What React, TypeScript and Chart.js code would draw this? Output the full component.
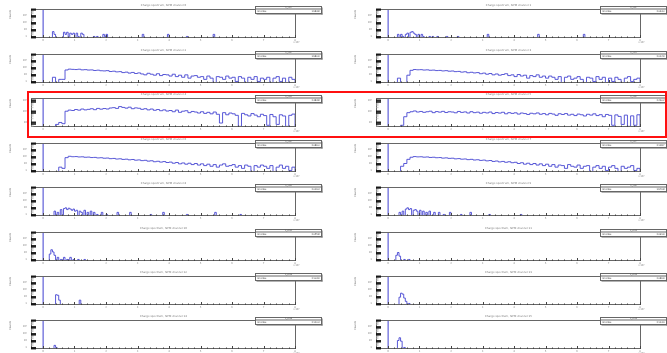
import React, { useEffect, useRef } from "react";
import { Chart, registerables } from "chart.js";

Chart.register(...registerables);

// ---------- axes ----------
const X_MIN = -0.38;
const X_MAX = 8.03;
const X_MAJOR_TICKS = [0, 1, 2, 3, 4, 5, 6, 7, 8];
const X_TICK_LABELS = ["0", "1", "2", "3", "4", "5", "6", "7", "8"];
const X_MINOR_STEPS = [0.2, 0.4, 0.6, 0.8];
const X_EXPONENT_LABEL = "×10³";

const Y_DECADES = [0.1, 1, 10, 100, 1000, 10000];
const Y_DECADE_LABELS = ["", "1", "10", "10²", "10³", "10⁴"];
const Y_MINOR_MULTIPLIERS = [2, 3, 4, 5, 6, 7, 8, 9];
const Y_TITLE = "Counts";

const BIN_WIDTH = 0.1;
const SPIKE_WIDTH = 0.05;
const PEDESTAL_WIDTH = 0.012;

// ---------- panel texts / ranges ----------
const TITLES = [
  "Charge spectrum, SiPM channel 0", "Charge spectrum, SiPM channel 1",
  "Charge spectrum, SiPM channel 2", "Charge spectrum, SiPM channel 3",
  "Charge spectrum, SiPM channel 4", "Charge spectrum, SiPM channel 5",
  "Charge spectrum, SiPM channel 6", "Charge spectrum, SiPM channel 7",
  "Charge spectrum, SiPM channel 8", "Charge spectrum, SiPM channel 9",
  "Charge spectrum, SiPM channel 10", "Charge spectrum, SiPM channel 11",
  "Charge spectrum, SiPM channel 12", "Charge spectrum, SiPM channel 13",
  "Charge spectrum, SiPM channel 14", "Charge spectrum, SiPM channel 15",
];
const HIST_NAMES = [
  "h_ch0", "h_ch1", "h_ch2", "h_ch3", "h_ch4", "h_ch5", "h_ch6", "h_ch7",
  "h_ch8", "h_ch9", "h_ch10", "h_ch11", "h_ch12", "h_ch13", "h_ch14", "h_ch15",
];
const Y_MIN = [0.6, 0.6, 0.6, 0.6, 3.5, 3.5, 0.6, 0.6, 0.6, 0.6, 0.6, 0.6, 0.6, 0.6, 0.6, 0.6];
const Y_MAX = [9000, 9000, 9000, 9000, 1500, 1500, 9000, 9000, 9000, 9000, 9000, 9000, 9000, 9000, 9000, 9000];
const PEDESTAL = [19800, 20400, 18700, 19100, 17600, 18200, 18900, 19300, 20100, 19700, 20500, 20900, 21000, 20800, 21200, 21100];

// ---------- histogram contents ----------
// sparse panels: [bin low edge (x10^3), count]
const CH00_SPIKES = [[0.3, 5], [0.35, 2], [0.65, 4], [0.7, 2], [0.75, 4], [0.85, 3], [0.9, 2], [0.95, 3], [1.05, 3], [1.1, 1], [1.2, 3], [1.25, 2], [1.6, 1], [1.7, 1], [1.9, 2], [1.95, 1], [2.0, 2], [3.15, 2], [3.95, 2], [4.55, 1], [5.4, 2]];
const CH01_SPIKES = [[0.3, 2], [0.4, 2], [0.45, 1], [0.55, 2], [0.6, 3], [0.7, 4], [0.75, 5], [0.8, 3], [0.85, 2], [0.95, 2], [1.05, 2], [1.1, 1], [1.3, 1], [1.4, 1], [1.55, 1], [1.85, 1], [2.2, 1], [3.15, 2], [4.75, 2], [6.2, 2]];
// dense panels: 80 bins of width 0.1 from 0 to 8
const CH02_BINS = [
  0, 0, 0, 4, 0, 2, 2, 45, 60, 55,
  52, 58, 47, 50, 44, 46, 38, 42, 35, 33,
  36, 27, 30, 24, 26, 19, 22, 16, 20, 14,
  17, 12, 9, 15, 11, 8, 13, 7, 10, 9,
  6, 11, 5, 8, 4, 9, 3, 6, 7, 4,
  5, 2, 6, 3, 0, 5, 4, 2, 6, 3,
  4, 1, 5, 3, 0, 4, 2, 5, 1, 3,
  2, 4, 0, 3, 5, 1, 3, 0, 4, 2,
];
const CH03_BINS = [
  0, 0, 0, 3, 0, 0, 8, 40, 52, 48,
  50, 44, 47, 41, 43, 37, 39, 33, 36, 30,
  32, 26, 28, 22, 25, 18, 21, 17, 19, 13,
  16, 11, 14, 9, 12, 8, 10, 13, 7, 9,
  5, 10, 6, 8, 3, 7, 5, 9, 4, 6,
  3, 6, 4, 2, 5, 0, 4, 6, 2, 3,
  5, 2, 0, 4, 3, 1, 5, 2, 4, 0,
  3, 1, 4, 2, 0, 3, 5, 1, 2, 3,
];
const CH04_BINS = [
  0, 0, 0, 0, 6, 9, 7, 95, 120, 110,
  135, 118, 150, 125, 140, 160, 130, 170, 145, 165,
  150, 185, 200, 170, 250, 210, 180, 220, 160, 190,
  175, 140, 160, 125, 150, 115, 135, 105, 125, 98,
  110, 85, 120, 75, 95, 105, 70, 90, 80, 65,
  85, 60, 75, 55, 80, 50, 8, 70, 45, 65,
  55, 40, 4, 60, 45, 35, 58, 42, 30, 50,
  38, 5, 48, 30, 6, 45, 35, 4, 40, 52,
];
const CH05_BINS = [
  0, 0, 0, 0, 5, 30, 70, 85, 100, 80,
  90, 75, 85, 95, 70, 88, 78, 92, 72, 85,
  80, 68, 90, 74, 82, 65, 86, 70, 78, 62,
  75, 66, 80, 58, 72, 64, 76, 55, 70, 60,
  68, 52, 65, 58, 48, 62, 55, 66, 50, 58,
  45, 60, 52, 40, 56, 48, 58, 42, 50, 38,
  52, 45, 35, 50, 42, 55, 38, 46, 30, 48,
  40, 5, 44, 32, 6, 42, 4, 36, 5, 45,
];
const CH06_BINS = [
  0, 0, 0, 0, 0, 3, 2, 70, 110, 95,
  100, 88, 92, 80, 84, 72, 76, 64, 68, 58,
  61, 50, 54, 44, 48, 39, 42, 34, 38, 30,
  33, 26, 29, 22, 25, 18, 21, 16, 19, 14,
  16, 11, 14, 9, 12, 8, 11, 7, 10, 6,
  9, 5, 8, 4, 7, 3, 6, 9, 4, 5,
  7, 3, 5, 2, 6, 4, 0, 5, 3, 6,
  4, 2, 5, 0, 3, 6, 2, 4, 1, 3,
];
const CH07_BINS = [
  0, 0, 0, 0, 4, 10, 40, 80, 100, 90,
  94, 82, 88, 75, 80, 68, 72, 60, 65, 55,
  58, 47, 51, 42, 45, 36, 40, 32, 35, 28,
  31, 24, 27, 20, 23, 17, 20, 15, 18, 13,
  15, 10, 13, 8, 11, 7, 10, 6, 9, 5,
  8, 4, 7, 3, 6, 5, 2, 7, 4, 3,
  6, 2, 4, 5, 0, 3, 5, 2, 4, 1,
  3, 5, 2, 0, 4, 2, 3, 5, 1, 2,
];
const CH08_SPIKES = [[0.35, 3], [0.45, 2], [0.55, 5], [0.65, 7], [0.7, 9], [0.75, 5], [0.8, 8], [0.85, 6], [0.9, 4], [0.95, 6], [1.0, 3], [1.05, 4], [1.15, 3], [1.2, 2], [1.3, 4], [1.4, 2], [1.5, 3], [1.6, 2], [1.7, 1], [1.85, 2], [2.0, 1], [2.35, 2], [2.75, 2], [3.4, 1], [3.8, 2], [4.55, 1], [5.45, 2], [6.25, 1]];
const CH09_SPIKES = [[0.35, 2], [0.45, 3], [0.55, 6], [0.6, 9], [0.65, 5], [0.7, 7], [0.8, 4], [0.85, 5], [0.9, 3], [1.0, 4], [1.1, 3], [1.2, 2], [1.3, 3], [1.45, 2], [1.6, 2], [1.75, 1], [1.95, 2], [2.3, 1], [2.6, 2], [3.2, 1], [4.2, 1]];
const CH10_SPIKES = [[0.2, 6], [0.25, 25], [0.3, 12], [0.35, 4], [0.45, 2], [0.55, 1], [0.65, 2], [0.75, 1], [0.85, 2], [0.95, 1], [1.1, 1], [1.3, 1]];
const CH11_SPIKES = [[0.25, 4], [0.3, 10], [0.35, 3], [0.5, 1], [0.65, 1]];
const CH12_SPIKES = [[0.4, 18], [0.45, 15], [0.5, 3], [1.15, 3]];
const CH13_SPIKES = [[0.35, 8], [0.4, 30], [0.45, 22], [0.5, 6], [0.55, 2], [0.65, 1]];
const CH14_SPIKES = [[0.35, 2], [0.4, 1]];
const CH15_SPIKES = [[0.3, 10], [0.35, 25], [0.4, 8], [0.5, 1]];

const PANEL_DATA: any[] = [
  CH00_SPIKES, CH01_SPIKES, CH02_BINS, CH03_BINS, CH04_BINS, CH05_BINS, CH06_BINS, CH07_BINS,
  CH08_SPIKES, CH09_SPIKES, CH10_SPIKES, CH11_SPIKES, CH12_SPIKES, CH13_SPIKES, CH14_SPIKES, CH15_SPIKES,
];

const LINE_BLUE = "#4646d2";
const PEDESTAL_BLUE = "#8080e0";

function buildPoints(p: number) {
  const low = Y_MIN[p] / 10;
  const pts: { x: number; y: number }[] = [{ x: PEDESTAL_WIDTH, y: low }];
  const d = PANEL_DATA[p];
  if (typeof d[0] === "number") {
    const bins = d as number[];
    for (let i = 1; i < bins.length; i++) {
      pts.push({ x: i * BIN_WIDTH, y: bins[i] > 0 ? bins[i] : low });
    }
    pts.push({ x: bins.length * BIN_WIDTH, y: low });
  } else {
    const sp = d as number[][];
    sp.forEach(([u, c], k) => {
      pts.push({ x: u, y: c });
      const end = u + SPIKE_WIDTH;
      const next = sp[k + 1];
      if (!next || Math.abs(next[0] - end) > 1e-6) pts.push({ x: end, y: low });
    });
  }
  pts.push({ x: X_MAX, y: low });
  return pts;
}

function pedestalPoints(p: number) {
  const low = Y_MIN[p] / 10;
  return [
    { x: X_MIN, y: low },
    { x: 0, y: PEDESTAL[p] },
    { x: PEDESTAL_WIDTH, y: low },
  ];
}

function entriesOf(p: number) {
  const d = PANEL_DATA[p];
  let s = PEDESTAL[p];
  if (typeof d[0] === "number") (d as number[]).forEach((v) => (s += v));
  else (d as number[][]).forEach((v) => (s += v[1]));
  return s;
}

const framePlugin = {
  id: "rootFrame",
  afterDraw(chart: any, _args: any, opts: any) {
    const { ctx, chartArea: a } = chart;
    const xs = chart.scales.x;
    const ys = chart.scales.y;
    ctx.save();
    const line = (x1: number, y1: number, x2: number, y2: number) => {
      ctx.beginPath();
      ctx.moveTo(x1, y1);
      ctx.lineTo(x2, y2);
      ctx.stroke();
    };
    // frame
    ctx.strokeStyle = "#666";
    ctx.lineWidth = 1;
    ctx.strokeRect(a.left + 0.5, a.top + 0.5, a.right - a.left - 1, a.bottom - a.top - 1);

    // x ticks
    ctx.strokeStyle = "#444";
    X_MAJOR_TICKS.forEach((t) => {
      const px = Math.round(xs.getPixelForValue(t)) + 0.5;
      line(px, a.bottom, px, a.bottom - 3);
      X_MINOR_STEPS.forEach((m) => {
        const v = t + m;
        if (v > X_MAX) return;
        const q = Math.round(xs.getPixelForValue(v)) + 0.5;
        line(q, a.bottom, q, a.bottom - 1.5);
      });
    });
    ctx.fillStyle = "#888";
    ctx.font = "2.6px 'DejaVu Sans'";
    ctx.textAlign = "center";
    ctx.textBaseline = "top";
    X_MAJOR_TICKS.forEach((t, i) => {
      ctx.fillText(X_TICK_LABELS[i], xs.getPixelForValue(t), a.bottom + 1.5);
    });
    ctx.textAlign = "left";
    ctx.fillText(X_EXPONENT_LABEL, a.right - 3, a.bottom + 3.5);

    // y ticks (log)
    Y_DECADES.forEach((d, i) => {
      [1, ...Y_MINOR_MULTIPLIERS].forEach((m) => {
        const v = m * d;
        if (v < opts.yMin || v > opts.yMax) return;
        const py = ys.getPixelForValue(v);
        if (m === 1 || m >= 6) {
          ctx.strokeStyle = "#111";
          ctx.lineWidth = 0.8;
          line(a.left, py, a.left + 5, py);
        } else {
          ctx.strokeStyle = "#aaa";
          ctx.lineWidth = 0.6;
          line(a.left, py, a.left + 2.5, py);
        }
      });
      if (Y_DECADE_LABELS[i] && d >= opts.yMin && d <= opts.yMax) {
        ctx.fillStyle = "#888";
        ctx.textAlign = "right";
        ctx.textBaseline = "middle";
        ctx.fillText(Y_DECADE_LABELS[i], a.left - 4, ys.getPixelForValue(d));
      }
    });
    ctx.lineWidth = 1;

    // y title
    ctx.save();
    ctx.translate(10, a.top + 1);
    ctx.rotate(-Math.PI / 2);
    ctx.fillStyle = "#666";
    ctx.font = "2.6px 'DejaVu Sans'";
    ctx.textAlign = "right";
    ctx.textBaseline = "middle";
    ctx.fillText(Y_TITLE, 0, 0);
    ctx.restore();

    // title
    ctx.fillStyle = "#777";
    ctx.font = "2.7px 'DejaVu Sans'";
    ctx.textAlign = "center";
    ctx.textBaseline = "middle";
    ctx.fillText(opts.title, (a.left + a.right) / 2, a.top - 3.5);

    // stat box
    const bx0 = a.right - 40.5;
    const bx1 = a.right + 25.5;
    const by0 = a.top - 2.5;
    const by1 = a.top + 4.5;
    ctx.fillStyle = "#666";
    ctx.fillRect(bx0 + 1, by1, bx1 - bx0, 1);
    ctx.fillRect(bx1, by0 + 1, 1, by1 - by0);
    ctx.fillStyle = "#fff";
    ctx.fillRect(bx0, by0, bx1 - bx0, by1 - by0);
    ctx.strokeStyle = "#666";
    ctx.strokeRect(bx0, by0, bx1 - bx0, by1 - by0);
    line(bx0, by0 + 2.5, bx1, by0 + 2.5);
    ctx.fillStyle = "#444";
    ctx.font = "2px 'DejaVu Sans'";
    ctx.textAlign = "center";
    ctx.fillText(opts.name, (bx0 + bx1) / 2, by0 + 1.3);
    ctx.font = "2.5px 'DejaVu Sans'";
    ctx.textAlign = "left";
    const midY = (by0 + 2.5 + by1) / 2;
    ctx.fillText("Entries", bx0 + 2, midY);
    ctx.textAlign = "right";
    ctx.fillText(String(opts.entries), bx1 - 2, midY);
    ctx.restore();
  },
};

function Panel({ p }: { p: number }) {
  const ref = useRef<HTMLCanvasElement>(null);
  useEffect(() => {
    const chart = new Chart(ref.current as HTMLCanvasElement, {
      type: "line",
      data: {
        datasets: [
          {
            data: pedestalPoints(p),
            borderColor: PEDESTAL_BLUE,
            borderWidth: 1,
            pointRadius: 0,
            stepped: true,
            fill: false,
          } as any,
          {
            data: buildPoints(p),
            borderColor: LINE_BLUE,
            borderWidth: 0.9,
            pointRadius: 0,
            stepped: true,
            fill: false,
          } as any,
        ],
      },
      options: {
        animation: false,
        responsive: false,
        events: [],
        layout: { padding: { left: 31, right: 49, top: 9, bottom: 6 } },
        scales: {
          x: { type: "linear", min: X_MIN, max: X_MAX, display: false },
          y: { type: "logarithmic", min: Y_MIN[p], max: Y_MAX[p], display: false },
        },
        plugins: {
          legend: { display: false },
          tooltip: { enabled: false },
          rootFrame: {
            title: TITLES[p],
            name: HIST_NAMES[p],
            entries: entriesOf(p),
            yMin: Y_MIN[p],
            yMax: Y_MAX[p],
          },
        } as any,
      },
      plugins: [framePlugin as any],
    });
    return () => chart.destroy();
  }, [p]);
  const row = Math.floor(p / 2);
  const col = p % 2;
  return (
    <canvas
      ref={ref}
      width={345}
      height={44}
      style={{ position: "absolute", left: col * 345, top: Math.round(row * 44.45 + 0.3), width: 345, height: 44 }}
    />
  );
}

export default function App() {
  return (
    <div style={{ position: "fixed", left: 0, top: 0, width: 667, height: 353, overflow: "hidden", background: "#fff" }}>
      {TITLES.map((_, p) => (
        <Panel key={p} p={p} />
      ))}
      <div
        style={{
          position: "absolute",
          left: 27,
          top: 91,
          width: 640,
          height: 47,
          border: "2px solid #ff1010",
          boxSizing: "border-box",
        }}
      />
    </div>
  );
}
